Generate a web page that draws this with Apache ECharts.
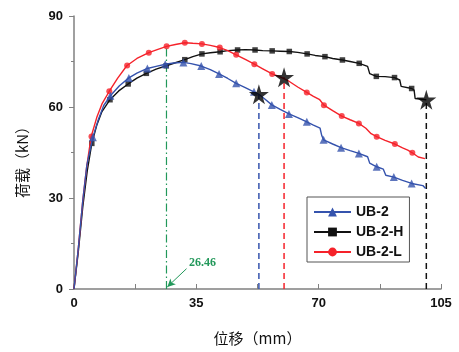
<!DOCTYPE html>
<html>
<head>
<meta charset="utf-8">
<script src="https://cdn.jsdelivr.net/npm/echarts@6/dist/echarts.min.js"></script>
<style>
  html, body { margin: 0; padding: 0; background: #fff; }
  #main { width: 459px; height: 352px; }
</style>
</head>
<body>
<div id="main"></div>
<script>
// x = displacement (mm), y = load (kN)
const seriesNames = ['UB-2', 'UB-2-H', 'UB-2-L'];
const xTicks = [0, 35, 70, 105];
const yTicks = [0, 30, 60, 90];

const ub2Line = [[0,0],[1.2,13],[2.5,29],[3.7,41],[5.4,50],[7,56],[8.5,60.5],[10.4,63.7],[13,67],[15.7,69.6],
  [18,71.2],[21,72.7],[23.5,73.4],[26.1,74.1],[28.5,74.5],[31.3,74.7],[33.5,74.3],[36.4,73.5],[39,72.3],
  [41.5,70.9],[44,69.4],[46.4,67.8],[49,66.4],[52.9,64.2],[54.5,62.7],[56.6,60.7],[59,59.2],[61.5,57.7],
  [64,56.5],[66.6,55.1],[68.5,54],[70.4,53],[70.9,50.5],[71.4,49.2],[74,47.8],[76.4,46.6],[79,45.6],
  [81.5,44.7],[84,43.6],[84.6,41.5],[86.6,40.3],[88.5,39.5],[89.2,37.5],[91.5,36.9],[94,35.8],[96.6,34.8],
  [99.8,34.1],[100.6,33.1]];
const ub2Marks = [[5.4,50],[10.4,63.7],[15.7,69.6],[21,72.7],[26.1,74.1],[31.3,74.7],[36.4,73.5],[41.5,70.9],
  [46.4,67.8],[51.5,65],[56.6,60.7],[61.5,57.7],[66.6,55.1],[71.4,49.2],[76.4,46.6],[81.5,44.7],[86.6,40.3],
  [91.5,36.9],[96.6,34.8]];

const ub2hLine = [[0,0],[1.2,12],[2.5,27],[3.8,39],[5.1,48],[6.5,54],[8,58.5],[10.3,62.4],[12.8,65.3],
  [15.5,67.6],[18,69.5],[20.7,71.1],[23.5,72.5],[26.4,73.6],[29,74.6],[31.7,75.6],[34,76.6],[36.6,77.5],
  [39,77.9],[41.8,78.2],[44,78.6],[46.8,78.8],[49,78.9],[51.8,78.8],[54,78.6],[56.7,78.5],[59,78.4],
  [61.6,78.3],[64,78],[66.7,77.5],[69,77],[71.8,76.6],[74,76],[76.8,75.5],[79,75],[81.6,74.4],[84,73.4],
  [84.6,71],[86.5,70.1],[89,70],[91.7,69.7],[93.2,68.9],[93.6,66.8],[96.6,66.1],[97.3,65.6],[97.6,62.8],
  [100.8,62.4]];
const ub2hMarks = [[5.1,48],[10.3,62.4],[15.5,67.6],[20.7,71.1],[26.4,73.6],[31.7,75.6],[36.6,77.5],[41.8,78.2],
  [46.8,78.8],[51.8,78.8],[56.7,78.5],[61.6,78.3],[66.7,77.5],[71.8,76.6],[76.8,75.5],[81.6,74.4],[86.5,70.1],
  [91.7,69.7],[96.6,66.1]];

const ub2lLine = [[0,0],[1.2,13],[2.5,29],[3.6,40],[4.9,50.2],[6.5,56.5],[8,61],[10.1,65.2],[12.5,69.5],
  [15.1,73.6],[18,76],[21.4,77.9],[24,79],[26.5,80],[29,80.6],[31.7,81.2],[34,81],[36.6,80.8],[39,80.3],
  [41.7,79.6],[44,78.6],[46.4,77.2],[49,75.7],[51.6,74.1],[54,72.6],[56.7,70.9],[59,69.9],[61.5,68.5],
  [64,66.6],[66.6,64.8],[68.5,63.5],[70.3,62.4],[71.5,60.6],[74,58.8],[76.6,57],[79,55.8],[81.5,54.6],
  [83.5,53],[85,51.2],[86.6,50.2],[89,49],[91.8,47.8],[94,46.5],[95.5,45.8],[96.8,44.9],[98.5,43.5],
  [100.4,43.0]];
const ub2lMarks = [[5,50.3],[10.1,65.2],[15.2,73.7],[21.4,77.9],[26.5,80],[31.7,81.2],[36.6,80.8],[41.7,79.6],
  [46.4,77.2],[51.6,74.1],[56.7,70.9],[66.6,64.8],[71.5,60.6],[76.6,57],[81.5,54.6],[86.6,50.2],[91.8,47.8],
  [96.8,44.9]];

// failure points (stars) on UB-2, UB-2-L, UB-2-H and the peak-displacement mark
const failPoints = [[52.9,64.2],[60.1,69.8],[100.8,62.4]];
const peakX = 26.46;
const peakTop = 80;
const peakLabel = '26.46';

const BLUE = '#3553ad';
const BLACK = '#111111';
const RED = '#f5222a';
const GREEN = '#22985a';
const STAR = 'path://M50,0 L61,35 L98,35 L68,57 L79,91 L50,70 L21,91 L32,57 L2,35 L39,35 Z';

const chart = echarts.init(document.getElementById('main'));

const curveColors = [BLUE, BLACK, RED];
const dropColors = [BLUE, RED, BLACK];
const curveLines = [ub2Line, ub2hLine, ub2lLine];
const curveMarks = [ub2Marks, ub2hMarks, ub2lMarks];
const curveSymbols = ['triangle', 'rect', 'circle'];
const curveSymbolSizes = [8, 5.5, 6];
const curveZ = [4, 2, 3];

const series = [];
seriesNames.forEach((name, i) => {
  series.push({
    name: name,
    type: 'line',
    data: curveLines[i],
    symbol: curveSymbols[i],
    symbolSize: curveSymbolSizes[i],
    showSymbol: false,
    color: curveColors[i],
    lineStyle: { width: 1.4, color: curveColors[i] },
    z: curveZ[i],
    animation: false
  });
  series.push({
    name: name,
    type: 'scatter',
    data: curveMarks[i],
    symbol: curveSymbols[i],
    symbolSize: curveSymbolSizes[i],
    itemStyle: { color: curveColors[i] },
    z: curveZ[i],
    animation: false
  });
});

// dashed drop lines from each star to the x axis
failPoints.forEach((p, i) => {
  series.push({
    type: 'line',
    data: [[p[0], 0], p],
    symbol: 'none',
    lineStyle: { width: 1.5, type: [6, 4], color: dropColors[i] },
    z: 1,
    silent: true,
    animation: false
  });
});

series.push({
  type: 'scatter',
  data: failPoints,
  symbol: STAR,
  symbolSize: 20,
  itemStyle: { color: '#000' },
  z: 10,
  animation: false
});

// green dash-dot line at the peak displacement with its arrow note
series.push({
  type: 'line',
  data: [[peakX, 0], [peakX, peakTop]],
  symbol: 'none',
  lineStyle: { width: 1.2, type: [8, 3, 1.5, 3], color: GREEN },
  z: 1,
  silent: true,
  animation: false,
  markLine: {
    silent: true,
    symbol: ['none', 'arrow'],
    symbolSize: [6, 8],
    lineStyle: { type: 'solid', width: 1, color: GREEN },
    label: { show: false },
    data: [[{ coord: [32.2, 6.7] }, { coord: [26.7, 0.7] }]]
  },
  markPoint: {
    silent: true,
    symbol: 'circle',
    symbolSize: 0,
    label: {
      show: true,
      formatter: peakLabel,
      color: GREEN,
      fontFamily: 'Liberation Serif',
      fontWeight: 'bold',
      fontSize: 12
    },
    data: [{ coord: [36.8, 8.6] }]
  }
});

const option = {
  backgroundColor: '#fff',
  animation: false,
  grid: { left: 74, right: 18, top: 16, bottom: 63 },
  legend: {
    data: seriesNames,
    orient: 'vertical',
    left: 307,
    top: 197,
    itemWidth: 37,
    itemHeight: 11,
    itemGap: 6,
    padding: [8, 6, 3, 6],
    borderColor: '#555',
    borderWidth: 1,
    textStyle: { fontFamily: 'Liberation Sans', fontWeight: 'bold', fontSize: 14, color: '#111' }
  },
  xAxis: {
    type: 'value',
    min: xTicks[0],
    max: xTicks[xTicks.length - 1],
    interval: 35,
    name: '位移（mm）',
    nameLocation: 'middle',
    nameGap: 42,
    nameTextStyle: { fontFamily: 'Noto Sans CJK SC', fontSize: 15, color: '#111' },
    axisLine: { lineStyle: { color: '#808080', width: 1.5 } },
    axisTick: { inside: true, length: 5, lineStyle: { color: '#808080', width: 1 } },
    minorTick: { show: true, splitNumber: 2, length: 5, lineStyle: { color: '#808080' } },
    axisLabel: { margin: 8, fontFamily: 'Liberation Sans', fontWeight: 'bold', fontSize: 13, color: '#111' },
    splitLine: { show: false }
  },
  yAxis: {
    type: 'value',
    min: yTicks[0],
    max: yTicks[yTicks.length - 1],
    interval: 30,
    name: '荷载（kN）',
    nameLocation: 'middle',
    nameGap: 44,
    nameRotate: 90,
    nameTextStyle: { fontFamily: 'Noto Sans CJK SC', fontSize: 15, color: '#111', padding: [0, 12, 0, 0] },
    axisLine: { show: true, lineStyle: { color: '#808080', width: 1.5 } },
    axisTick: { show: true, length: 5, lineStyle: { color: '#808080', width: 1 } },
    minorTick: { show: true, splitNumber: 2, length: 3, lineStyle: { color: '#808080' } },
    axisLabel: { margin: 11, fontFamily: 'Liberation Sans', fontWeight: 'bold', fontSize: 13, color: '#111' },
    splitLine: { show: false }
  },
  series: series
};

chart.setOption(option);
</script>
</body>
</html>
